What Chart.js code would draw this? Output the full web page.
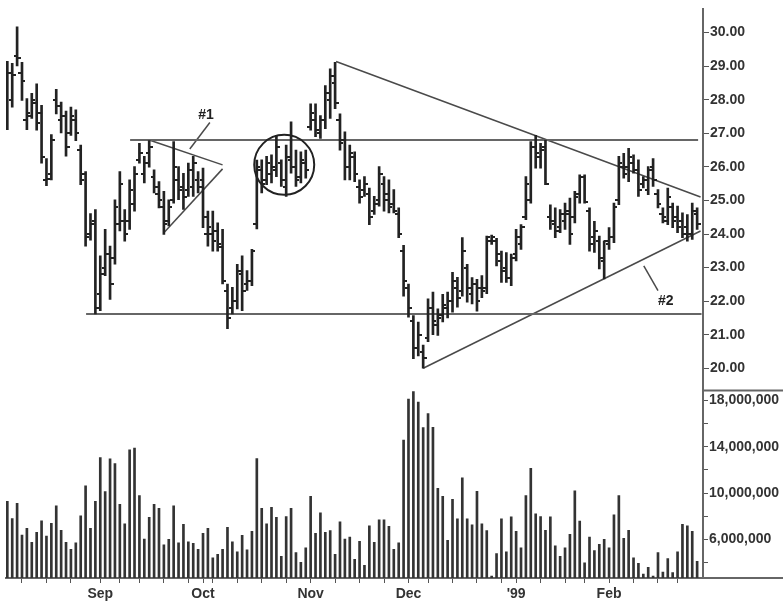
<!DOCTYPE html>
<html>
<head>
<meta charset="utf-8">
<script src="https://cdn.jsdelivr.net/npm/chart.js@4.4.1/dist/chart.umd.min.js"></script>
<style>
  body { margin: 0; background: #fff; }
  canvas { display: block; }
</style>
</head>
<body>
<canvas id="c" width="783" height="605"></canvas>
<script>
// daily bars, Aug 1998 - Feb 1999 (index = trading day)
const high = [
  29.14, 29.08, 30.17, 29.11, 28.03, 28.19, 28.47, 27.83, 26.25, 26.96,
  28.31, 27.93, 27.66, 27.78, 27.70, 26.65, 25.86, 24.61, 24.73, 23.35,
  24.14, 23.64, 25.02, 25.86, 24.73, 25.61, 26.01, 26.70, 26.31, 26.78,
  25.91, 25.56, 25.27, 25.02, 26.75, 26.01, 25.81, 26.11, 26.31, 25.86,
  25.96, 24.68, 24.68, 24.33, 24.14, 22.51, 22.41, 23.10, 23.35, 22.91,
  23.54, 26.20, 26.21, 26.31, 26.36, 26.94, 26.21, 26.65, 27.34, 26.50,
  26.45, 26.50, 27.88, 27.88, 27.53, 28.42, 28.92, 29.11, 27.58, 27.04,
  26.65, 26.45, 25.61, 25.71, 25.37, 25.12, 26.01, 25.71, 25.61, 25.32,
  24.78, 23.66, 22.51, 21.57, 21.38, 20.69, 22.07, 22.27, 21.77, 22.20,
  22.27, 22.86, 22.71, 23.89, 23.10, 22.70, 22.65, 22.76, 23.94, 23.97,
  23.87, 23.49, 23.45, 23.40, 24.14, 24.28, 25.71, 26.75, 26.94, 26.70,
  26.80, 24.87, 24.78, 24.73, 24.92, 25.07, 25.27, 25.76, 25.76, 24.78,
  24.38, 23.94, 23.79, 24.19, 24.92, 26.31, 26.40, 26.55, 26.36, 26.21,
  25.71, 26.01, 26.25, 25.32, 24.78, 25.37, 24.92, 24.83, 24.63, 24.58,
  24.92, 24.78
];
const low = [
  27.11, 27.78, 29.01, 27.98, 27.11, 27.44, 27.09, 26.11, 25.44, 25.61,
  27.58, 27.01, 26.32, 26.94, 26.78, 25.47, 23.64, 23.82, 21.62, 21.72,
  22.76, 22.05, 23.10, 24.09, 23.79, 24.14, 24.68, 26.11, 25.52, 25.99,
  25.22, 24.78, 23.99, 24.24, 24.92, 25.02, 24.73, 25.12, 25.12, 25.22,
  24.19, 23.64, 23.49, 23.49, 22.51, 21.18, 21.62, 21.77, 21.72, 22.32,
  22.46, 24.15, 25.22, 25.47, 25.52, 25.71, 25.42, 25.12, 25.81, 25.42,
  25.52, 25.66, 27.09, 26.90, 26.85, 27.14, 27.44, 27.73, 26.50, 25.61,
  25.61, 25.56, 24.92, 25.12, 24.28, 24.58, 24.83, 24.68, 24.63, 24.63,
  23.89, 22.15, 21.52, 20.29, 20.37, 20.00, 20.79, 21.00, 20.98, 21.38,
  21.50, 21.67, 21.82, 22.15, 21.97, 21.92, 21.70, 22.10, 22.22, 23.69,
  23.05, 22.56, 22.56, 22.46, 23.20, 23.54, 24.43, 24.92, 25.96, 25.96,
  25.47, 24.14, 23.89, 24.04, 24.14, 23.69, 24.33, 24.92, 24.92, 23.49,
  23.45, 22.96, 22.66, 23.54, 23.74, 24.87, 25.66, 25.56, 25.81, 25.12,
  25.37, 25.17, 25.42, 24.78, 24.33, 24.28, 24.19, 24.04, 23.89, 23.79,
  23.84, 24.14
];
const open = [
  28.10, 28.00, 29.30, 28.80, 27.40, 27.50, 27.90, 27.60, 25.60, 25.80,
  28.00, 27.40, 27.50, 27.00, 27.40, 26.50, 25.80, 24.00, 24.40, 22.20,
  23.00, 23.40, 23.30, 24.30, 24.40, 24.40, 24.90, 26.20, 25.80, 26.40,
  25.70, 25.20, 24.80, 24.40, 25.00, 25.60, 25.40, 25.30, 25.40, 25.60,
  25.60, 24.00, 24.00, 24.10, 23.60, 22.30, 21.80, 22.00, 22.80, 22.50,
  22.60, 24.30, 25.90, 25.60, 25.80, 25.90, 26.10, 25.40, 26.20, 26.00,
  25.70, 26.10, 27.20, 27.40, 27.00, 27.40, 28.00, 28.50, 27.40, 26.80,
  26.00, 26.30, 25.40, 25.30, 25.20, 24.70, 25.00, 25.50, 25.20, 24.90,
  24.60, 23.50, 22.40, 21.40, 20.60, 20.50, 20.90, 21.80, 21.30, 21.60,
  21.80, 22.00, 22.40, 22.30, 23.00, 22.20, 22.50, 22.40, 22.40, 23.80,
  23.80, 23.20, 23.00, 22.70, 23.40, 23.70, 24.50, 25.00, 26.60, 26.30,
  26.60, 24.50, 24.30, 24.20, 24.40, 24.60, 24.50, 25.20, 25.70, 24.70,
  23.90, 23.80, 23.20, 23.70, 23.90, 25.00, 26.00, 26.00, 26.10, 25.90,
  25.50, 25.30, 26.00, 25.20, 24.60, 24.40, 24.80, 24.50, 24.40, 24.20,
  24.00, 24.60
];
const close = [
  28.80, 28.75, 29.25, 28.55, 27.60, 28.00, 27.30, 26.30, 25.65, 26.80,
  27.80, 27.50, 26.60, 27.50, 27.00, 25.60, 23.90, 24.30, 21.80, 22.80,
  23.40, 22.50, 24.80, 25.50, 24.00, 25.30, 25.80, 26.40, 26.10, 26.60,
  25.40, 25.00, 24.30, 24.80, 26.00, 25.30, 25.10, 25.90, 26.10, 25.40,
  24.50, 24.20, 23.80, 23.70, 22.60, 21.50, 22.00, 22.90, 22.30, 22.60,
  23.50, 26.00, 25.50, 26.10, 26.00, 26.60, 25.60, 26.30, 26.00, 25.60,
  26.20, 25.90, 27.60, 27.10, 27.40, 28.20, 28.70, 27.90, 26.70, 26.00,
  26.40, 25.80, 25.10, 25.50, 24.50, 24.90, 25.80, 25.00, 24.80, 24.70,
  24.00, 22.60, 21.80, 20.60, 21.00, 20.30, 21.80, 21.40, 21.50, 21.90,
  22.00, 22.60, 22.10, 23.50, 22.40, 22.50, 22.00, 22.30, 23.90, 23.90,
  23.40, 22.90, 22.70, 23.30, 23.90, 24.20, 25.50, 26.60, 26.40, 26.50,
  25.50, 24.40, 24.10, 24.60, 24.70, 24.00, 25.10, 25.70, 24.95, 23.70,
  24.10, 23.30, 23.80, 23.90, 24.80, 26.10, 25.80, 26.30, 25.90, 25.30,
  25.60, 25.90, 25.60, 24.90, 24.50, 25.10, 24.40, 24.20, 24.00, 24.00,
  24.70, 24.30
];
// volume in millions of shares
const volume = [
  9.30, 7.82, 9.13, 6.39, 6.97, 5.77, 6.62, 7.62, 6.31, 7.39,
  8.90, 6.79, 5.77, 5.17, 5.71, 8.05, 10.64, 6.97, 9.30, 13.06,
  10.13, 12.95, 12.55, 9.04, 7.36, 13.74, 13.89, 9.79, 6.05, 7.91,
  9.04, 8.70, 5.54, 6.03, 8.90, 5.71, 7.31, 5.80, 5.68, 5.17,
  6.54, 6.97, 4.43, 4.72, 5.17, 7.05, 5.80, 4.94, 6.37, 5.11,
  6.71, 12.97, 8.70, 7.36, 8.79, 7.91, 4.55, 7.99, 8.70, 4.89,
  4.03, 5.28, 9.73, 6.54, 8.31, 6.62, 6.77, 4.72, 7.54, 6.05,
  6.22, 4.29, 5.85, 3.78, 7.19, 5.77, 7.71, 7.71, 7.14, 5.17,
  5.71, 14.57, 18.10, 18.76, 17.85, 15.66, 16.85, 15.68, 10.41, 9.73,
  5.94, 9.47, 7.79, 11.32, 7.79, 7.28, 10.15, 7.36, 6.77, 2.86,
  4.80, 7.79, 4.94, 7.96, 6.71, 5.28, 9.79, 12.15, 8.22, 7.99,
  6.79, 7.96, 5.46, 4.55, 5.28, 6.45, 10.21, 7.59, 4.00, 6.22,
  5.06, 5.60, 6.03, 5.28, 8.14, 9.79, 6.11, 6.79, 4.43, 3.95,
  3.03, 3.60, 2.86, 4.89, 3.21, 4.36, 3.15, 4.94, 7.31, 7.19,
  6.71, 4.12
];

// x axis ticks (bar index)
const monthTickIdx = [19, 40, 62, 82, 104, 123];
const monthLabels = ['Sep', 'Oct', 'Nov', 'Dec', "'99", 'Feb'];
const weekTickIdx = [3, 8, 13, 23, 27, 32, 37, 42, 47, 52, 57, 67, 72, 77, 86, 91, 96, 101, 109, 114, 118, 128, 133, 137];
const volumeLabelled = [6, 10, 14, 18];

// drawn trend lines: start/end as [bar index, price]
const lineStartIdx   = [25.1, 16.1, 67.2, 85.0, 29.0, 32.0, 37.3, 130.1];
const lineStartPrice = [26.80, 21.62, 29.14, 20.00, 26.80, 24.04, 26.53, 23.05];
const lineEndIdx     = [141.2, 141.9, 141.7, 141.7, 44.0, 44.0, 41.4, 133.0];
const lineEndPrice   = [26.80, 21.62, 25.10, 24.09, 26.06, 25.94, 27.32, 22.31];
const lineWidths     = [2, 2, 1.5, 1.5, 1.5, 1.5, 1.5, 1.5];

// circled congestion area and notes
const circleIdx = 56.6, circlePrice = 26.06;
const noteText = ['#1', '#2'];
const noteIdx = [40.6, 134.6];
const notePrice = [27.53, 22.0];

const FONT = '"Liberation Sans", Arial, sans-serif';
Chart.defaults.font.family = FONT;

function tickImage(side) {
  const c = document.createElement('canvas');
  c.width = 7; c.height = 2;
  const g = c.getContext('2d');
  g.fillStyle = '#222';
  if (side === 'left') g.fillRect(0, 0, 4, 2); else g.fillRect(3, 0, 4, 2);
  return c;
}

const trendSets = lineStartIdx.map((s, k) => ({
  type: 'line',
  data: [{ x: s, y: lineStartPrice[k] }, { x: lineEndIdx[k], y: lineEndPrice[k] }],
  borderColor: k < 2 ? '#666' : '#4a4a4a',
  borderWidth: lineWidths[k],
  pointRadius: 0,
  yAxisID: 'y'
}));

const extras = {
  id: 'extras',
  afterDraw(chart) {
    const { ctx, scales } = chart;
    const yv = scales.yv;
    ctx.save();
    ctx.strokeStyle = '#666';
    ctx.lineWidth = 2;
    [yv.top, yv.bottom].forEach(y => {
      ctx.beginPath();
      ctx.moveTo(yv.left, y);
      ctx.lineTo(chart.width, y);
      ctx.stroke();
    });
    ctx.fillStyle = '#222';
    ctx.font = 'bold 14px ' + FONT;
    ctx.textAlign = 'center';
    ctx.textBaseline = 'middle';
    noteText.forEach((t, k) => {
      ctx.fillText(t, scales.x.getPixelForValue(noteIdx[k]), scales.y.getPixelForValue(notePrice[k]));
    });
    ctx.restore();
  }
};

new Chart(document.getElementById('c'), {
  type: 'bar',
  data: {
    datasets: [
      {
        type: 'scatter',
        data: open.map((v, i) => ({ x: i, y: v })),
        pointStyle: tickImage('left'),
        yAxisID: 'y'
      },
      {
        type: 'scatter',
        data: close.map((v, i) => ({ x: i, y: v })),
        pointStyle: tickImage('right'),
        yAxisID: 'y'
      },
      {
        type: 'bar',
        data: high.map((h, i) => ({ x: i, y: [low[i], h] })),
        backgroundColor: '#222',
        barThickness: 2,
        grouped: false,
        yAxisID: 'y'
      },
      {
        type: 'bar',
        data: volume.map((v, i) => ({ x: i, y: v })),
        backgroundColor: '#333',
        barThickness: 2,
        grouped: false,
        yAxisID: 'yv'
      },
      {
        type: 'scatter',
        data: [{ x: circleIdx, y: circlePrice }],
        pointRadius: 30,
        pointStyle: 'circle',
        backgroundColor: 'rgba(0,0,0,0)',
        borderColor: '#222',
        borderWidth: 2,
        yAxisID: 'y'
      },
      ...trendSets
    ]
  },
  options: {
    responsive: false,
    animation: false,
    devicePixelRatio: 1,
    layout: { autoPadding: false, padding: { left: 6, top: 5, right: 0, bottom: 0 } },
    plugins: { legend: { display: false }, tooltip: { enabled: false } },
    scales: {
      x: {
        type: 'linear',
        min: -0.27,
        max: 142.2,
        offset: false,
        afterBuildTicks(scale) {
          scale.ticks = weekTickIdx.concat(monthTickIdx).sort((a, b) => a - b).map(v => ({ value: v }));
        },
        afterFit(scale) { scale.height = 27; },
        grid: { drawOnChartArea: false, drawTicks: true, tickLength: 5, color: '#555', offset: false },
        border: { display: true, color: '#666', width: 2 },
        ticks: {
          autoSkip: false,
          maxRotation: 0,
          padding: 3,
          color: '#333',
          font: { size: 14, weight: 'bold' },
          callback(v) {
            const k = monthTickIdx.indexOf(v);
            return k >= 0 ? monthLabels[k] : '';
          }
        }
      },
      y: {
        type: 'linear',
        position: 'right',
        stack: 'panels',
        stackWeight: 384,
        min: 19.34,
        max: 30.69,
        afterFit(scale) { scale.width = 80; },
        grid: { drawOnChartArea: false, drawTicks: true, tickLength: 6, color: '#555' },
        border: { display: true, color: '#666', width: 2 },
        ticks: {
          stepSize: 1,
          includeBounds: false,
          autoSkip: false,
          padding: 1,
          color: '#333',
          font: { size: 14, weight: 'bold' },
          callback: v => v.toFixed(2)
        }
      },
      yv: {
        type: 'linear',
        position: 'right',
        stack: 'panels',
        stackWeight: 189,
        min: 2.69,
        max: 18.85,
        beginAtZero: false,
        afterFit(scale) { scale.width = 80; },
        grid: { drawOnChartArea: false, drawTicks: true, tickLength: 5, color: '#555' },
        border: { display: true, color: '#666', width: 2 },
        ticks: {
          stepSize: 2,
          includeBounds: false,
          autoSkip: false,
          padding: 1,
          color: '#333',
          font: { size: 14, weight: 'bold' },
          callback: v => volumeLabelled.includes(Math.round(v)) ? (Math.round(v) * 1000000).toLocaleString('en-US') : ''
        }
      }
    }
  },
  plugins: [extras]
});
</script>
</body>
</html>
